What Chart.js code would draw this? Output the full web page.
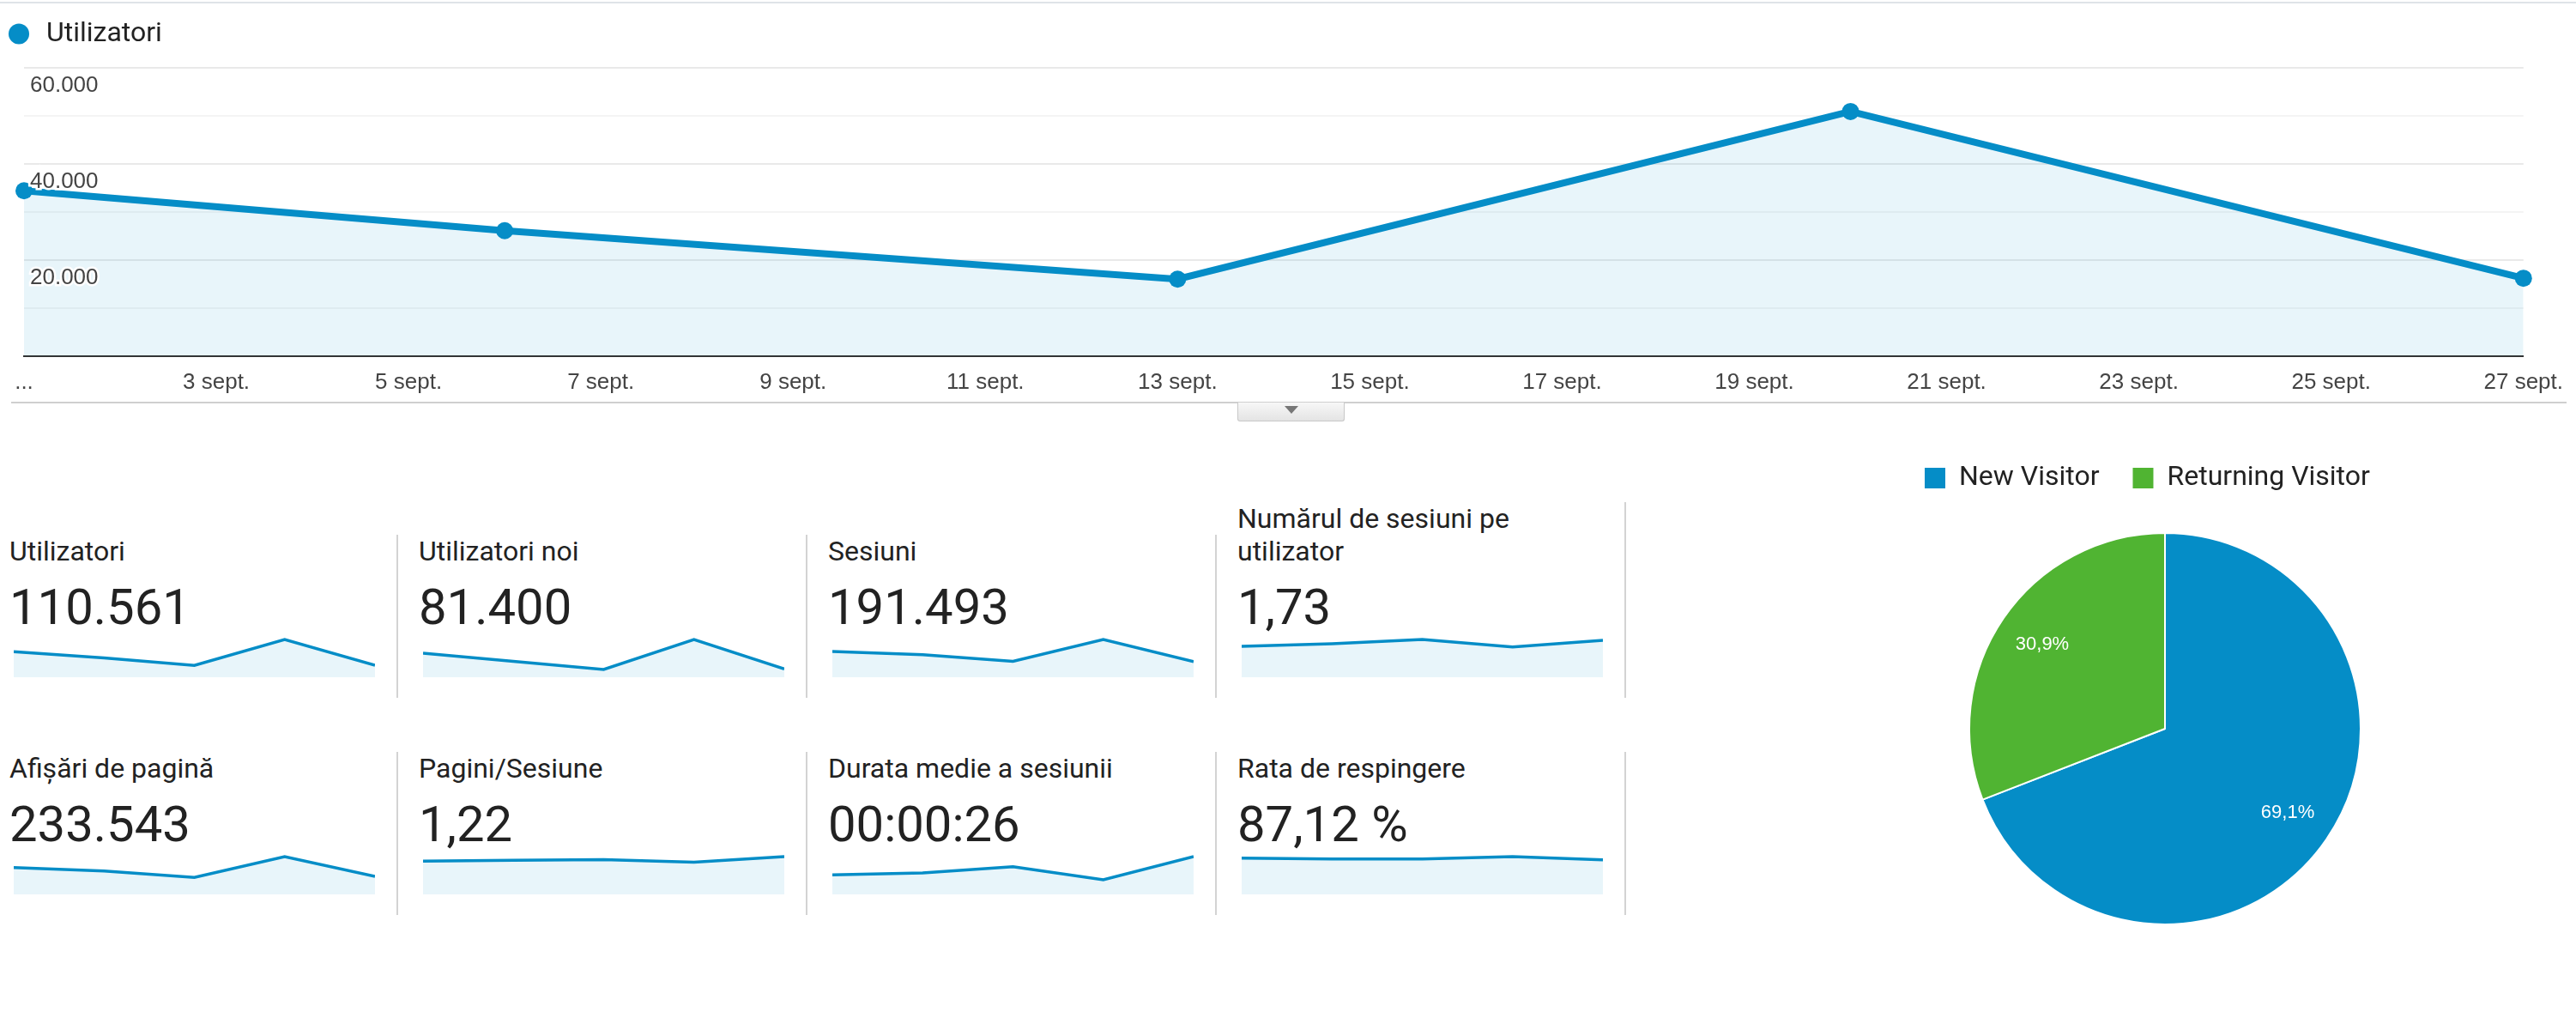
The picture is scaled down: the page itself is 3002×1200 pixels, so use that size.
<!DOCTYPE html>
<html lang="ro">
<head>
<meta charset="utf-8">
<title>Prezentare generală public</title>
<script src="https://cdn.jsdelivr.net/npm/chart.js@4.4.1/dist/chart.umd.min.js"></script>
<style>
  html, body { margin: 0; padding: 0; background: #fff; }
  body { width: 3002px; height: 1200px; position: relative; overflow: hidden; font-family: Roboto, Arial, sans-serif; color: #222; }
  .abs { position: absolute; }
  #topline { left: 0; top: 2px; width: 3002px; height: 2px; background: #dfe3e8; }
  #sep { left: 13px; top: 468px; width: 2978px; height: 2px; background: #cfcfcf; }
  #tab { left: 1442px; top: 469px; width: 123px; height: 21px; border: 1px solid #c8c8c8; border-top: none;
         border-radius: 0 0 3px 3px; background: linear-gradient(#f7f7f7, #e4e4e4); }
  #tab:after { content: ''; position: absolute; left: 54px; top: 4px; border-left: 8px solid transparent;
               border-right: 8px solid transparent; border-top: 9px solid #777; }
  .card-title { width: 440px; font-size: 32px; line-height: 38px; }
  .card-value { font-size: 58px; line-height: 58px; white-space: nowrap; }
  .divider { width: 2px; background: #d3d3d3; }
</style>
</head>
<body>
<div id="topline" class="abs"></div>
<canvas id="mainChart" class="abs" width="3002" height="478" style="left:0;top:0"></canvas>
<div id="sep" class="abs"></div>
<div id="tab" class="abs"></div>
<div id="cards"></div>
<canvas id="pieChart" class="abs" width="638" height="613" style="left:2204px;top:502px"></canvas>

<script>
// main chart: users per week
const days = [1, 6, 13, 20, 27];
const users = [34400, 26100, 16000, 50900, 16200];
const xTickLabels = ['...', '3 sept.', '5 sept.', '7 sept.', '9 sept.', '11 sept.', '13 sept.',
  '15 sept.', '17 sept.', '19 sept.', '21 sept.', '23 sept.', '25 sept.', '27 sept.'];
const yTickLabels = ['', '', '20.000', '', '40.000', '', '60.000'];

// scorecards
const cardTitles = ['Utilizatori', 'Utilizatori noi', 'Sesiuni', 'Numărul de sesiuni pe utilizator',
  'Afișări de pagină', 'Pagini/Sesiune', 'Durata medie a sesiunii', 'Rata de respingere'];
const cardValues = ['110.561', '81.400', '191.493', '1,73', '233.543', '1,22', '00:00:26', '87,12 %'];
const weeks = ['1 sept.', '6 sept.', '13 sept.', '20 sept.', '27 sept.'];
const sparkUsers = [34400, 26100, 16000, 50900, 16200];
const sparkNewUsers = [24100, 16000, 7800, 38000, 8400];
const sparkSessions = [59800, 52400, 37000, 88000, 36300];
const sparkSessPerUser = [1.52, 1.65, 1.86, 1.49, 1.82];
const sparkPageviews = [70500, 61500, 44300, 99000, 47300];
const sparkPagesPerSess = [1.18, 1.21, 1.23, 1.14, 1.34];
const sparkDuration = [17.5, 19.3, 25, 13.1, 34];
const sparkBounce = [87.0, 85.0, 85.0, 90.5, 82.9];
const sparkSeries = [sparkUsers, sparkNewUsers, sparkSessions, sparkSessPerUser,
  sparkPageviews, sparkPagesPerSess, sparkDuration, sparkBounce];

// pie
const visitorTypes = ['New Visitor', 'Returning Visitor'];
const visitorShares = [69.1, 30.9];

const BLUE = '#058dc7';
const GREEN = '#50b432';
const FILL = 'rgba(5,141,199,0.09)';

Chart.defaults.font.family = '"Liberation Sans", Arial, sans-serif';

// extra room between the legend and the plot
const legendGap = {
  id: 'legendGap',
  beforeInit(chart) {
    const fit = chart.legend.fit;
    chart.legend.fit = function () {
      fit.call(this);
      this.height += 13.5;
    };
  }
};

new Chart(document.getElementById('mainChart'), {
  type: 'line',
  data: {
    datasets: [{
      label: 'Utilizatori',
      data: days.map((d, i) => ({ x: d, y: users[i] })),
      borderColor: BLUE,
      backgroundColor: FILL,
      borderWidth: 8,
      pointRadius: 10,
      pointBackgroundColor: BLUE,
      pointBorderWidth: 0,
      fill: 'origin',
      tension: 0,
      clip: false
    }]
  },
  options: {
    responsive: false,
    animation: false,
    events: [],
    layout: { padding: { left: 0, right: 57, top: 17.5, bottom: 2 } },
    plugins: {
      tooltip: { enabled: false },
      legend: {
        align: 'start',
        labels: {
          usePointStyle: true,
          boxWidth: 32,
          boxHeight: 17,
          padding: 6,
          color: '#222',
          font: { family: 'Roboto', size: 32 },
          generateLabels: chart => Chart.defaults.plugins.legend.labels.generateLabels(chart)
            .map(l => ({ ...l, fillStyle: BLUE, strokeStyle: BLUE, lineWidth: 0 }))
        }
      }
    },
    scales: {
      x: {
        type: 'linear',
        min: 1,
        max: 27,
        grid: { display: false, drawTicks: false },
        border: { display: true, color: '#333', width: 2 },
        ticks: {
          stepSize: 2,
          autoSkip: false,
          maxRotation: 0,
          padding: 15,
          color: '#444',
          font: { size: 26 },
          callback: (v, i) => xTickLabels[i]
        }
      },
      y: {
        min: 0,
        max: 60000,
        afterFit: scale => { scale.width = 28; },
        grid: {
          drawTicks: false,
          lineWidth: 2,
          color: c => (c.tick && c.tick.value % 20000 === 0) ? '#e9e9e9' : '#f4f4f4'
        },
        border: { display: false },
        ticks: {
          stepSize: 10000,
          mirror: true,
          padding: 7,
          labelOffset: 21,
          z: 1,
          color: '#444',
          font: { size: 26 },
          textStrokeColor: '#fff',
          textStrokeWidth: 5,
          callback: (v, i) => yTickLabels[i]
        }
      }
    }
  },
  plugins: [legendGap]
});

// scorecards with sparklines
const cards = document.getElementById('cards');
const colX = [11, 488, 965, 1442];
cardTitles.forEach((title, i) => {
  const col = i % 4, row = Math.floor(i / 4);
  const x = colX[col], dy = row * 253;

  const t = document.createElement('div');
  t.className = 'abs card-title';
  t.style.left = x + 'px';
  t.style.bottom = (1200 - 661 - dy) + 'px';
  t.textContent = title;
  cards.appendChild(t);

  const v = document.createElement('div');
  v.className = 'abs card-value';
  v.style.left = x + 'px';
  v.style.top = (678 + dy) + 'px';
  v.textContent = cardValues[i];
  cards.appendChild(v);

  const d = document.createElement('div');
  d.className = 'abs divider';
  d.style.left = (x + 451) + 'px';
  d.style.top = t.offsetTop + 'px';
  d.style.height = (813 + dy - t.offsetTop) + 'px';
  cards.appendChild(d);

  const c = document.createElement('canvas');
  c.className = 'abs';
  c.width = 421;
  c.height = 48;
  c.style.left = (x + 5) + 'px';
  c.style.top = (741 + dy) + 'px';
  cards.appendChild(c);

  const values = sparkSeries[i];
  new Chart(c, {
    type: 'line',
    data: {
      labels: weeks,
      datasets: [{
        data: values,
        borderColor: BLUE,
        backgroundColor: FILL,
        borderWidth: 3.5,
        pointRadius: 0,
        fill: 'origin',
        tension: 0,
        clip: false
      }]
    },
    options: {
      responsive: false,
      animation: false,
      events: [],
      layout: { padding: { top: 4, bottom: 0, left: 0, right: 0 } },
      plugins: { legend: { display: false }, tooltip: { enabled: false } },
      scales: {
        x: { display: false },
        y: { display: false, min: 0, max: Math.max(...values) }
      }
    }
  });
});

// pie with percentage labels
const pieLabels = {
  id: 'pieLabels',
  afterDatasetsDraw(chart) {
    const ctx = chart.ctx;
    ctx.save();
    ctx.fillStyle = '#fff';
    ctx.font = '22px "Liberation Sans", Arial, sans-serif';
    ctx.textAlign = 'center';
    ctx.textBaseline = 'middle';
    chart.getDatasetMeta(0).data.forEach((arc, i) => {
      const p = arc.getProps(['x', 'y', 'startAngle', 'endAngle', 'outerRadius']);
      const mid = (p.startAngle + p.endAngle) / 2;
      const r = p.outerRadius * 0.76;
      ctx.fillText(visitorShares[i].toFixed(1).replace('.', ',') + '%',
        p.x + Math.cos(mid) * r, p.y + Math.sin(mid) * r);
    });
    ctx.restore();
  }
};

new Chart(document.getElementById('pieChart'), {
  type: 'pie',
  data: {
    labels: visitorTypes,
    datasets: [{
      data: visitorShares,
      backgroundColor: [BLUE, GREEN],
      borderColor: '#fff',
      borderWidth: 2,
      radius: 228
    }]
  },
  options: {
    responsive: false,
    animation: false,
    events: [],
    plugins: {
      tooltip: { enabled: false },
      legend: {
        position: 'top',
        align: 'start',
        labels: {
          boxWidth: 24,
          boxHeight: 24,
          padding: 39,
          color: '#222',
          font: { family: 'Roboto', size: 32 },
          generateLabels: chart => Chart.overrides.pie.plugins.legend.labels.generateLabels(chart)
            .map(l => ({ ...l, lineWidth: 0 }))
        }
      }
    }
  },
  plugins: [pieLabels]
});
</script>
</body>
</html>
